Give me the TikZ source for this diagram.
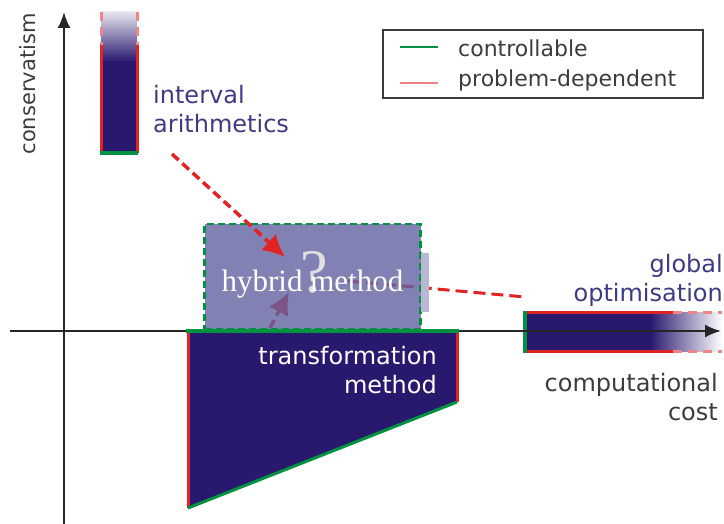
\documentclass[tikz,border=0pt]{standalone}
\usepackage{fontspec}
\setmainfont{Liberation Serif}
\setsansfont{DejaVu Sans}
\usetikzlibrary{arrows.meta}
\definecolor{navy}{RGB}{40,24,110}
\definecolor{hybfill}{RGB}{98,98,160}
\definecolor{txtblue}{RGB}{62,58,132}
\definecolor{ctrl}{RGB}{0,145,65}
\definecolor{prob}{RGB}{225,35,35}
\definecolor{legred}{RGB}{238,130,130}
\definecolor{txtgray}{RGB}{60,60,60}
\begin{document}
\begin{tikzpicture}[
    x=1pt,y=-1pt,
    every node/.style={font=\sffamily\fontsize{24}{29}\selectfont, inner sep=0pt},
    axis/.style={draw=black!85, line width=2.4pt, -{Latex[length=16pt,width=13pt]}},
    ctrledge/.style={draw=ctrl, line width=4pt},
    probedge/.style={draw=prob, line width=3pt},
    probfade/.style={draw=prob!55, line width=3pt, dash pattern=on 9pt off 6pt},
    redarrow/.style={draw=prob, line width=3.5pt, dash pattern=on 9pt off 5pt, -{Latex[length=22pt,width=22pt]}},
    redline/.style={draw=prob, line width=3pt, dash pattern=on 12pt off 6pt},
    methodlbl/.style={text=txtblue, align=left},
    legendlbl/.style={anchor=west, text=txtgray, font=\sffamily\fontsize{22}{26}\selectfont},
    hybridbox/.style={draw=ctrl, line width=2.5pt, dash pattern=on 7pt off 4pt, fill=hybfill, fill opacity=0.8, draw opacity=1, text opacity=1, minimum width=216pt, minimum height=105pt}
]
    \useasboundingbox (0,0) rectangle (724,524);

    % legend
    \node[draw=txtgray, line width=1.2pt, minimum width=320pt, minimum height=68pt] (legend) at (543,64) {};
    \coordinate (lg1a) at (400,47); \coordinate (lg1b) at (438,47);
    \coordinate (lg2a) at (400,83); \coordinate (lg2b) at (438,83);
    \draw[ctrl, line width=2pt] (lg1a) -- (lg1b);
    \draw[legred, line width=2pt] (lg2a) -- (lg2b);
    \node[legendlbl] (lgctrl) at (458,48) {controllable};
    \node[legendlbl] (lgprob) at (458,80) {problem-dependent};

    % interval arithmetics bar
    \shade[top color=navy!12, bottom color=navy] (101,12) rectangle (137,62);
    \fill[navy] (101,62) rectangle (137,153);
    \draw[probfade] (101,12) -- (101,45) (137,12) -- (137,45);
    \draw[probedge] (101,45) -- (101,153) (137,45) -- (137,153);
    \draw[ctrledge] (100,153) -- (138,153);
    \node[methodlbl, anchor=west] (ia) at (153,109) {interval\\arithmetics};

    % global optimisation bar
    \fill[navy] (525,313) rectangle (650,351);
    \shade[left color=navy, right color=white] (650,313) rectangle (722,351);
    \draw[probedge] (525,313) -- (673,313) (525,351) -- (673,351);
    \draw[probfade] (673,313) -- (722,313) (673,351) -- (722,351);
    \draw[ctrledge] (525,311) -- (525,353);
    \node[methodlbl, align=right, anchor=east] (go) at (723,280) {global\\optimisation};

    % axes
    \coordinate (xstart) at (10,331);  \coordinate (xend) at (721,331);
    \coordinate (ystart) at (64,524);  \coordinate (yend) at (64,12);
    \draw[axis] (xstart) -- (xend);
    \draw[axis] (ystart) -- (yend);
    \node[rotate=90, text=txtgray, font=\sffamily\fontsize{21}{24}\selectfont] (ylbl) at (28,84) {conservatism};
    \node[align=right, anchor=east, text=txtgray] (xlbl) at (718,397) {computational\\cost};

    % transformation method
    \fill[navy] (188,331) -- (457,331) -- (457,402) -- (188,508) -- cycle;
    \draw[probedge] (188,331) -- (188,508) (457,331) -- (457,402);
    \draw[ctrl, line width=3pt] (188,508) -- (457,402);
    \draw[ctrledge] (186,331) -- (459,331);
    \node[align=right, anchor=east, text=white] (tm) at (437,370) {transformation\\method};

    % links under the hybrid box
    \coordinate (tm-tail) at (270,328);  \coordinate (hyb-low) at (289,292);
    \coordinate (hyb-mid) at (348,281);  \coordinate (go-end) at (525,297);
    \draw[redline] (hyb-mid) -- (go-end);
    \draw[redarrow] (tm-tail) -- (hyb-low);

    % hybrid method
    \node[hybridbox] (hyb) at (312.5,276.5) {};
    \fill[hybfill!45] (421,253) rectangle (429,312);
    \node[text=gray!25, font=\rmfamily\fontsize{62}{62}\selectfont] (qm) at (314,272) {?};
    \node[text=white, font=\rmfamily\fontsize{31}{36}\selectfont, anchor=base] (hm) at (312.5,292) {hybrid method};

    % link from interval arithmetics
    \coordinate (ia-tail) at (172,154);  \coordinate (hyb-in) at (285,257);
    \draw[redarrow] (ia-tail) -- (hyb-in);
\end{tikzpicture}
\end{document}
